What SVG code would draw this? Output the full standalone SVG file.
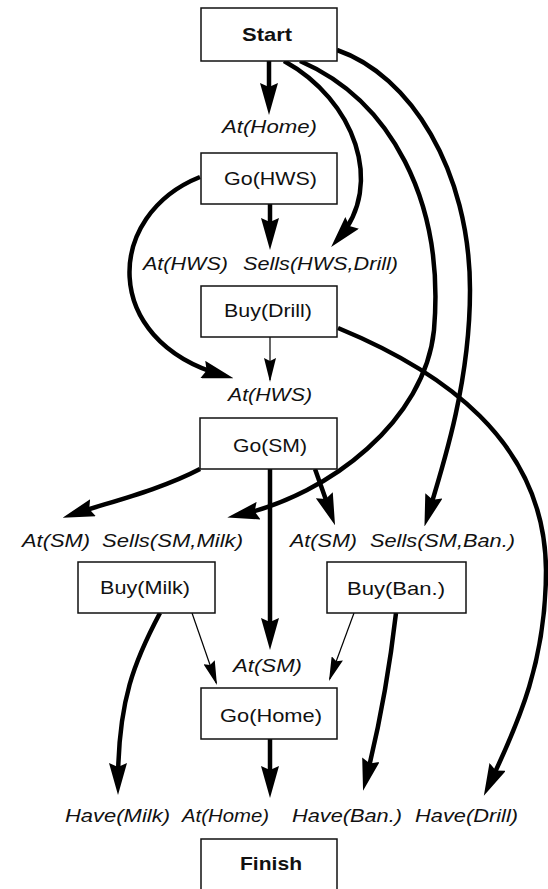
<svg xmlns="http://www.w3.org/2000/svg" width="548" height="889" viewBox="0 0 548 889">
<style>
.box{fill:#fff;stroke:#111;stroke-width:1.5}
.t{font-family:"Liberation Sans",Arial,sans-serif;font-size:19px;fill:#111}
.b{font-weight:bold}
.i{font-style:italic}
.thick{fill:none;stroke:#000;stroke-width:4.5;marker-end:url(#big)}
.thin{fill:none;stroke:#000;stroke-width:1.2;marker-end:url(#small)}
</style>
<defs>
<marker id="big" markerUnits="userSpaceOnUse" viewBox="0 0 32 18" markerWidth="32" markerHeight="18" refX="20" refY="9" orient="auto"><path d="M0,0 L32,9 L0,18 L4,9 Z" fill="#000"/></marker>
<marker id="small" markerUnits="userSpaceOnUse" viewBox="0 0 24 12" markerWidth="24" markerHeight="12" refX="22" refY="6" orient="auto"><path d="M0,0 L24,6 L0,12 L3,6 Z" fill="#000"/></marker>
</defs>
<rect width="548" height="889" fill="#fff"/>
<g id="connectors">
<path class="thick" d="M269,61 L269,103"/>
<path class="thick" d="M284,61 C355,100 385,185 339,238"/>
<path class="thick" d="M300,61 C390,100 445,200 434,330 C425,420 330,495 239,515"/>
<path class="thick" d="M337,50 C410,75 470,170 470,290 C470,380 445,460 428,515"/>
<path class="thick" d="M270,204 L270,238"/>
<path class="thick" d="M200,177 C105,215 100,340 222,375"/>
<path class="thin" d="M270,337 L270,380"/>
<path class="thick" d="M338,328 C440,370 545,440 546,570 C546,660 520,720 489,785"/>
<path class="thick" d="M200,469 C160,490 110,502 74,514"/>
<path class="thick" d="M270,469 L270,638"/>
<path class="thick" d="M315,469 L331,514"/>
<path class="thick" d="M160,613 C135,660 118,700 118,783"/>
<path class="thin" d="M192,613 L216.3,683"/>
<path class="thin" d="M354,613 L329.7,679"/>
<path class="thick" d="M396,613 Q386,700 366,779"/>
<path class="thick" d="M270,739 L270,786"/>
</g>
<g id="start"><rect class="box" x="201" y="8" width="136" height="53"/><text class="t b" x="242" y="41" textLength="50" lengthAdjust="spacingAndGlyphs">Start</text></g>
<g id="go-hws"><rect class="box" x="201" y="153" width="136" height="51"/><text class="t" x="224" y="185" textLength="93" lengthAdjust="spacingAndGlyphs">Go(HWS)</text></g>
<g id="buy-drill"><rect class="box" x="201" y="286" width="136" height="51"/><text class="t" x="224" y="317" textLength="88" lengthAdjust="spacingAndGlyphs">Buy(Drill)</text></g>
<g id="go-sm"><rect class="box" x="200" y="418" width="137" height="51"/><text class="t" x="233" y="452" textLength="74" lengthAdjust="spacingAndGlyphs">Go(SM)</text></g>
<g id="buy-milk"><rect class="box" x="78" y="562" width="137" height="51"/><text class="t" x="100" y="594" textLength="90" lengthAdjust="spacingAndGlyphs">Buy(Milk)</text></g>
<g id="buy-ban"><rect class="box" x="327" y="562" width="139" height="51"/><text class="t" x="347" y="595" textLength="98" lengthAdjust="spacingAndGlyphs">Buy(Ban.)</text></g>
<g id="go-home"><rect class="box" x="201" y="688" width="136" height="51"/><text class="t" x="220" y="722" textLength="102" lengthAdjust="spacingAndGlyphs">Go(Home)</text></g>
<g id="finish"><rect class="box" x="201" y="839" width="136" height="60"/><text class="t b" x="240" y="870" textLength="62" lengthAdjust="spacingAndGlyphs">Finish</text></g>
<g id="cond-at-home-1"><text class="t i" x="222" y="133" textLength="95" lengthAdjust="spacingAndGlyphs">At(Home)</text></g>
<g id="cond-at-hws-1"><text class="t i" x="143" y="270" textLength="85" lengthAdjust="spacingAndGlyphs">At(HWS)</text></g>
<g id="cond-sells-hws-drill"><text class="t i" x="243" y="270" textLength="155" lengthAdjust="spacingAndGlyphs">Sells(HWS,Drill)</text></g>
<g id="cond-at-hws-2"><text class="t i" x="228" y="401" textLength="84" lengthAdjust="spacingAndGlyphs">At(HWS)</text></g>
<g id="cond-at-sm-1"><text class="t i" x="22" y="547" textLength="68" lengthAdjust="spacingAndGlyphs">At(SM)</text></g>
<g id="cond-sells-sm-milk"><text class="t i" x="102" y="547" textLength="141" lengthAdjust="spacingAndGlyphs">Sells(SM,Milk)</text></g>
<g id="cond-at-sm-2"><text class="t i" x="290" y="547" textLength="67" lengthAdjust="spacingAndGlyphs">At(SM)</text></g>
<g id="cond-sells-sm-ban"><text class="t i" x="370" y="547" textLength="145" lengthAdjust="spacingAndGlyphs">Sells(SM,Ban.)</text></g>
<g id="cond-at-sm-3"><text class="t i" x="233" y="672" textLength="69" lengthAdjust="spacingAndGlyphs">At(SM)</text></g>
<g id="cond-have-milk"><text class="t i" x="65" y="822" textLength="105" lengthAdjust="spacingAndGlyphs">Have(Milk)</text></g>
<g id="cond-at-home-2"><text class="t i" x="182" y="822" textLength="87" lengthAdjust="spacingAndGlyphs">At(Home)</text></g>
<g id="cond-have-ban"><text class="t i" x="292" y="822" textLength="110" lengthAdjust="spacingAndGlyphs">Have(Ban.)</text></g>
<g id="cond-have-drill"><text class="t i" x="415" y="822" textLength="103" lengthAdjust="spacingAndGlyphs">Have(Drill)</text></g>
</svg>
